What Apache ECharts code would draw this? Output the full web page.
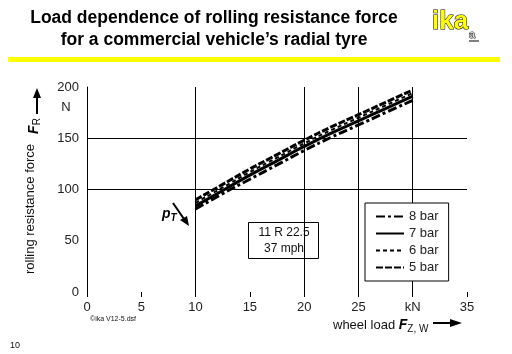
<!DOCTYPE html>
<html>
<head>
<meta charset="utf-8">
<script src="https://cdn.jsdelivr.net/npm/echarts@6/dist/echarts.min.js"></script>
<style>
  html, body { margin: 0; padding: 0; background: #fff; }
  #chart { width: 512px; height: 354px; }
</style>
</head>
<body>
<div id="chart"></div>
<script>
// wheel load in kN
var loads = [10, 12.5, 15, 17.5, 20, 22.5, 25, 27.5, 30];
// rolling resistance force in N, per inflation pressure
var bar5 = [90, 105, 120, 134, 148, 161, 173, 185, 197];
var bar6 = [87, 102, 117, 131, 145, 158, 170, 182, 194];
var bar7 = [84, 99, 114, 128, 142, 155, 167, 179, 191];
var bar8 = [81, 96, 110, 124, 138, 151, 163, 175, 187];
var xTicks = ['0', '5', '10', '15', '20', '25', 'kN', '35'];

function pairs(ys) {
    return loads.map(function (x, i) { return [x, ys[i]]; });
}

var font = 'Arial, "Liberation Sans", sans-serif';
var myChart = echarts.init(document.getElementById('chart'));

var option = {
    backgroundColor: '#fff',
    textStyle: { fontFamily: font },
    grid: { left: 87, right: 45, top: 87, bottom: 62 },
    xAxis: {
        type: 'value', min: 0, max: 35, interval: 5,
        axisLine: { show: false },
        axisTick: { show: true, length: 5, lineStyle: { color: '#000' } },
        axisLabel: {
            color: '#222', fontSize: 13, margin: 9,
            formatter: function (v) { return xTicks[v / 5]; }
        },
        splitLine: {
            show: true,
            lineStyle: { color: ['transparent', 'transparent', '#000', 'transparent', '#000', '#000', '#000', 'transparent'], width: 1 }
        }
    },
    yAxis: {
        type: 'value', min: 0, max: 200, interval: 50,
        axisLine: { show: true, lineStyle: { color: '#000' } },
        axisTick: { show: false },
        axisLabel: { color: '#222', fontSize: 13, margin: 8 },
        splitLine: {
            show: true,
            lineStyle: { color: ['transparent', 'transparent', '#000', '#000', 'transparent'], width: 1 }
        }
    },
    legend: {
        orient: 'vertical', left: 365, top: 203,
        padding: [7, 10, 7, 10],
        borderColor: '#000', borderWidth: 1, backgroundColor: '#fff',
        itemWidth: 28, itemHeight: 12, itemGap: 4,
        itemStyle: { opacity: 0 },
        textStyle: { fontSize: 13, color: '#222', fontFamily: font },
        data: ['8 bar', '7 bar', '6 bar', '5 bar']
    },
    series: [
        { name: '5 bar', type: 'line', data: pairs(bar5), symbol: 'none', smooth: true,
          lineStyle: { color: '#000', width: 3, type: [7, 2] }, itemStyle: { color: '#000' } },
        { name: '6 bar', type: 'line', data: pairs(bar6), symbol: 'none', smooth: true,
          lineStyle: { color: '#000', width: 2, type: [4, 3] }, itemStyle: { color: '#000' } },
        { name: '7 bar', type: 'line', data: pairs(bar7), symbol: 'none', smooth: true,
          lineStyle: { color: '#000', width: 3 }, itemStyle: { color: '#000' } },
        { name: '8 bar', type: 'line', data: pairs(bar8), symbol: 'none', smooth: true,
          lineStyle: { color: '#000', width: 3, type: [9, 3, 3, 3] }, itemStyle: { color: '#000' } }
    ],
    graphic: [
        // title
        { type: 'text', x: 214, y: 7, style: {
            text: 'Load dependence of rolling resistance force\nfor a commercial vehicle\u2019s radial tyre',
            fontSize: 17.5, fontWeight: 'bold', fontFamily: font, fill: '#000', align: 'center', lineHeight: 22 } },
        // ika logo
        { type: 'text', x: 432, y: 9, style: {
            text: 'ika', fontSize: 26, fontWeight: 900, fontFamily: font,
            fill: '#ffff00', stroke: '#000', lineWidth: 1 } },
        { type: 'text', x: 469, y: 29, style: {
            text: 'a', fontSize: 11, fontFamily: font, fill: '#fff', stroke: '#000', lineWidth: 1 } },
        { type: 'line', shape: { x1: 469, y1: 41, x2: 479, y2: 41 }, style: { stroke: '#000', lineWidth: 1 } },
        // yellow rule
        { type: 'rect', shape: { x: 8, y: 57, width: 492, height: 5 }, style: { fill: '#ffff00' } },
        // y axis title
        { type: 'text', x: 30, y: 209, rotation: Math.PI / 2, style: {
            text: 'rolling resistance force', fontSize: 13, fontFamily: font, fill: '#111',
            align: 'center', verticalAlign: 'middle' } },
        { type: 'text', x: 34, y: 126, rotation: Math.PI / 2, style: {
            text: '{f|F}{s|R}', fontFamily: font, align: 'center', verticalAlign: 'middle',
            rich: { f: { fontSize: 14, fontWeight: 'bold', fontStyle: 'italic', fill: '#000' },
                    s: { fontSize: 10, fill: '#000', padding: [6, 0, 0, 0] } } } },
        { type: 'line', shape: { x1: 37, y1: 114, x2: 37, y2: 96 }, style: { stroke: '#000', lineWidth: 2 } },
        { type: 'polygon', shape: { points: [[33, 98], [41, 98], [37, 88]] }, style: { fill: '#000' } },
        { type: 'text', x: 66, y: 107, style: { text: 'N', fontSize: 13, fontFamily: font, fill: '#222',
            align: 'center', verticalAlign: 'middle' } },
        // x axis title
        { type: 'text', x: 333, y: 325, style: {
            text: 'wheel load {f|F}{s|Z, W}', fontSize: 13, fontFamily: font, fill: '#111', verticalAlign: 'middle',
            rich: { f: { fontSize: 14, fontWeight: 'bold', fontStyle: 'italic', fill: '#000' },
                    s: { fontSize: 10, fill: '#111', padding: [8, 0, 0, 0] } } } },
        { type: 'line', shape: { x1: 433, y1: 323, x2: 452, y2: 323 }, style: { stroke: '#000', lineWidth: 2 } },
        { type: 'polygon', shape: { points: [[450, 319], [450, 327], [462, 323]] }, style: { fill: '#000' } },
        // p_T marker
        { type: 'text', x: 162, y: 214, style: {
            text: '{p|p}{s|T}', fontFamily: font, verticalAlign: 'middle',
            rich: { p: { fontSize: 14, fontWeight: 'bold', fontStyle: 'italic', fill: '#000' },
                    s: { fontSize: 10, fontWeight: 'bold', fontStyle: 'italic', fill: '#000', padding: [8, 0, 0, 0] } } } },
        { type: 'line', shape: { x1: 173, y1: 203, x2: 184, y2: 219 }, style: { stroke: '#000', lineWidth: 2 } },
        { type: 'polygon', shape: { points: [[180, 220], [187, 216], [189, 226]] }, style: { fill: '#000' } },
        // info box
        { type: 'rect', shape: { x: 248.5, y: 222.5, width: 70, height: 36 }, style: { fill: '#fff', stroke: '#000', lineWidth: 1 } },
        { type: 'text', x: 284, y: 241, style: {
            text: '11 R 22.5\n37 mph', fontSize: 12, fontFamily: font, fill: '#111', align: 'center',
            verticalAlign: 'middle', lineHeight: 16 } },
        // file note and page number
        { type: 'text', x: 90, y: 319, style: { text: '\u00a9ika V12-5.dsf', fontSize: 7, fontFamily: font, fill: '#111', verticalAlign: 'middle' } },
        { type: 'text', x: 10, y: 346, style: { text: '10', fontSize: 9, fontFamily: font, fill: '#111', verticalAlign: 'middle' } }
    ]
};

myChart.setOption(option);
</script>
</body>
</html>
